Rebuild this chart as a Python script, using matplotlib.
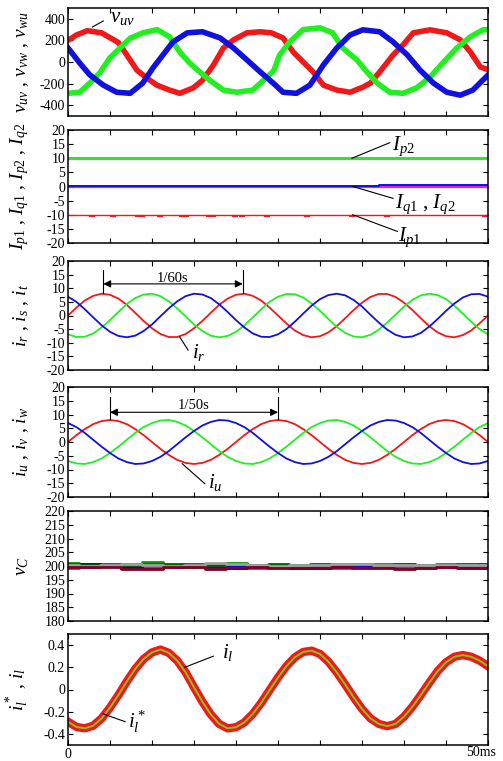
import matplotlib
matplotlib.use('Agg')
import matplotlib.pyplot as plt
from matplotlib.ticker import FixedLocator, MultipleLocator

plt.rcParams['font.family'] = ['Liberation Serif', 'DejaVu Serif']
plt.rcParams['mathtext.fontset'] = 'custom'
plt.rcParams['mathtext.it'] = 'Liberation Serif:italic'
plt.rcParams['mathtext.rm'] = 'Liberation Serif'
plt.rcParams['axes.unicode_minus'] = False

# ---------------- data ----------------
# Panel 1: line voltages (centre of noisy PWM band)
t_vuv = [0, 1, 2.3, 4, 6, 7, 8.2, 9.4, 10.6, 12.1, 13.3, 14.9, 16, 17.3, 18.5, 19.7, 21.3, 22.9, 24.2,
         25.6, 26.8, 28, 29.2, 30.4, 32, 33.6, 35.1, 36, 37.1, 38.7, 39.9, 41.1, 43.1, 45.1, 46.7, 47.9, 49.1, 50]
v_uv = [200, 250, 290, 270, 180, 65, -75, -150, -215, -260, -290, -240, -170, -30, 130, 205, 270, 280, 270,
        223, 93, 0, -93, -214, -260, -280, -233, -195, -93, 65, 160, 270, 298, 270, 205, 93, -47, -70]
t_vvw = [0, 1.4, 2.6, 3.8, 5, 6.2, 7.4, 8.9, 10.6, 12.1, 13.3, 14.5, 15.7, 16.9, 18.5, 20.1, 22, 23.7, 24.5,
         25.2, 26.4, 28, 30, 31.5, 32.7, 34.4, 35.6, 36.8, 38.3, 39.9, 41.5, 43.1, 44.6, 46.3, 47.9, 49.4, 50]
v_vw = [-290, -280, -195, -100, 40, 130, 220, 270, 300, 233, 93, -10, -93, -170, -260, -280, -260, -140, -80,
        65, 186, 300, 316, 270, 130, 19, -93, -195, -280, -290, -240, -140, -10, 130, 233, 298, 300]
t_vwu = [0, 1.4, 2.6, 4.2, 5.8, 7.4, 8.9, 10.1, 11.3, 12.5, 14.2, 16, 18.1, 19.7, 21.3, 22.9, 24.5, 25.6,
         27.2, 28.8, 30.4, 32, 33.6, 35.1, 37.1, 38.7, 40.4, 41.9, 43.5, 45.1, 46.7, 48.2, 50]
v_wu = [130, -10, -120, -214, -280, -290, -195, -56, 65, 186, 270, 280, 223, 130, 19, -93, -200, -280,
        -290, -214, -28, 130, 251, 298, 280, 186, 65, -74, -195, -280, -307, -260, -120]

# Panel 2: dq currents
t_dq = [0, 50]
I_p2 = [10, 10]
I_p1 = [-10, -10]
I_q1 = [-0.2, -0.2]
t_q2 = [0, 37, 37, 50]
I_q2 = [0.15, 0.15, 0.6, 0.6]
t_p1_dips = [2.9, 5.4, 8.3, 8.8, 10.9, 13.6, 14.1, 16.8, 17.3, 19.9, 20.7, 23.7, 28.5, 33.8, 38.0, 49.6]

# Panels 3,4: currents, 1 ms samples
t_ms = list(range(51))
i_r = [0, 2.9, 5.5, 7.2, 8.0, 7.6, 6.2, 3.9, 1.0, -2.0, -4.7, -6.8, -7.9, -7.9, -6.8, -4.7, -2.0, 1.0, 3.9,
       6.2, 7.6, 8.0, 7.2, 5.5, 2.9, 0, -2.9, -5.5, -7.2, -8.0, -7.6, -6.2, -3.9, -1.0, 2.0, 4.7, 6.8, 7.9,
       7.9, 6.8, 4.7, 2.0, -1.0, -3.9, -6.2, -7.6, -8.0, -7.2, -5.5, -2.9, 0]
i_s = [-6.9, -7.9, -7.8, -6.6, -4.4, -1.7, 1.3, 4.2, 6.4, 7.7, 8.0, 7.1, 5.2, 2.6, -0.3, -3.3, -5.7, -7.4,
       -8.0, -7.5, -6.0, -3.6, -0.7, 2.3, 5.0, 6.9, 7.9, 7.8, 6.6, 4.4, 1.7, -1.3, -4.2, -6.4, -7.7, -8.0,
       -7.1, -5.2, -2.6, 0.3, 3.3, 5.7, 7.4, 8.0, 7.5, 6.0, 3.6, 0.7, -2.3, -5.0, -6.9]
i_t = [6.9, 5.0, 2.3, -0.7, -3.6, -6.0, -7.5, -8.0, -7.4, -5.7, -3.3, -0.3, 2.6, 5.2, 7.1, 8.0, 7.7, 6.4,
       4.1, 1.3, -1.7, -4.4, -6.6, -7.8, -7.9, -6.9, -5.0, -2.3, 0.7, 3.6, 6.0, 7.5, 8.0, 7.4, 5.7, 3.3,
       0.3, -2.6, -5.2, -7.1, -8.0, -7.7, -6.4, -4.1, -1.3, 1.7, 4.4, 6.6, 7.8, 7.9, 6.9]
i_u = [0, 2.5, 4.7, 6.5, 7.6, 8.0, 7.6, 6.5, 4.7, 2.5, 0, -2.5, -4.7, -6.5, -7.6, -8.0, -7.6, -6.5, -4.7,
       -2.5, 0, 2.5, 4.7, 6.5, 7.6, 8.0, 7.6, 6.5, 4.7, 2.5, 0, -2.5, -4.7, -6.5, -7.6, -8.0, -7.6, -6.5,
       -4.7, -2.5, 0, 2.5, 4.7, 6.5, 7.6, 8.0, 7.6, 6.5, 4.7, 2.5, 0]
i_v = [-6.9, -7.8, -8.0, -7.3, -6.0, -4.0, -1.7, 0.8, 3.3, 5.4, 6.9, 7.8, 8.0, 7.3, 6.0, 4.0, 1.7, -0.8,
       -3.3, -5.4, -6.9, -7.8, -8.0, -7.3, -6.0, -4.0, -1.7, 0.8, 3.3, 5.4, 6.9, 7.8, 8.0, 7.3, 6.0, 4.0,
       1.7, -0.8, -3.3, -5.4, -6.9, -7.8, -8.0, -7.3, -6.0, -4.0, -1.7, 0.8, 3.3, 5.4, 6.9]
i_w = [6.9, 5.4, 3.3, 0.8, -1.7, -4.0, -6.0, -7.3, -8.0, -7.8, -6.9, -5.4, -3.3, -0.8, 1.7, 4.0, 6.0, 7.3,
       8.0, 7.8, 6.9, 5.4, 3.3, 0.8, -1.7, -4.0, -6.0, -7.3, -8.0, -7.8, -6.9, -5.4, -3.3, -0.8, 1.7, 4.0,
       6.0, 7.3, 8.0, 7.8, 6.9, 5.4, 3.3, 0.8, -1.7, -4.0, -6.0, -7.3, -8.0, -7.8, -6.9]

# Panel 5: capacitor voltages, 2.5 ms samples
t_vc = [0, 2.5, 5, 7.5, 10, 12.5, 15, 17.5, 20, 22.5, 25, 27.5, 30, 32.5, 35, 37.5, 40, 42.5, 45, 47.5, 50]
vc_series = {
    '#00a000': [201.0, 200.6, 200.2, 200.9, 201.3, 200.4, 199.8, 200.6, 201.0, 200.2, 200.3, 200.4, 200.2,
                200.5, 200.6, 200.7, 200.6, 200.5, 200.6, 200.5, 200.6],
    '#e00000': [200.3, 200.5, 200.8, 200.6, 200.2, 200.0, 200.8, 200.9, 200.4, 199.9, 199.7, 199.7, 199.8,
                199.8, 199.7, 199.7, 199.7, 199.6, 199.8, 199.9, 200.0],
    '#000000': [199.8, 200.1, 199.9, 199.3, 199.2, 200.0, 200.2, 199.3, 199.2, 200.0, 199.5, 199.2, 199.4,
                199.6, 199.7, 199.8, 199.7, 200.1, 200.0, 199.6, 199.8],
    '#e000e0': [199.2, 199.5, 199.9, 199.8, 199.6, 199.7, 199.9, 199.8, 199.5, 199.4, 199.6, 199.7, 199.5,
                199.4, 199.5, 199.6, 199.5, 199.4, 199.5, 199.3, 199.4],
    '#0000e0': [200.5, 200.7, 200.4, 199.8, 200.2, 200.3, 200.0, 200.1, 200.3, 200.0, 200.4, 200.2, 200.1,
                200.3, 200.2, 200.4, 200.3, 200.5, 200.1, 200.0, 200.3],
    '#006400': [200.8, 200.3, 200.0, 200.5, 200.8, 200.6, 200.1, 200.5, 200.7, 200.3, 200.6, 200.4, 200.6,
                200.8, 200.6, 200.5, 200.7, 200.3, 200.4, 200.8, 200.7],
    '#a0a0a0': [200.2, 200.0, 200.3, 200.7, 200.5, 200.0, 200.4, 201.0, 200.8, 200.2, 200.0, 200.2, 200.5,
                200.9, 200.9, 200.5, 200.3, 200.2, 200.4, 200.3, 200.2],
    '#800020': [199.5, 199.8, 199.6, 198.9, 199.0, 199.7, 199.6, 199.0, 199.1, 199.8, 199.2, 199.1, 199.4,
                199.5, 199.4, 199.2, 198.9, 199.3, 199.5, 199.2, 199.1],
}

# Panel 6: load current reference (measured current tracks it with noise)
i_l_ref = [-0.29, -0.337, -0.35, -0.326, -0.26, -0.163, -0.05, 0.072, 0.185, 0.275, 0.334, 0.36, 0.33, 0.26,
           0.155, 0.02, -0.11, -0.225, -0.31, -0.35, -0.34, -0.296, -0.22, -0.12, -0.006, 0.108, 0.21, 0.29,
           0.338, 0.35, 0.32, 0.25, 0.155, 0.045, -0.07, -0.175, -0.26, -0.31, -0.33, -0.31, -0.245, -0.155,
           -0.05, 0.06, 0.165, 0.245, 0.295, 0.31, 0.295, 0.26, 0.21]

RED, GREEN, BLUE = '#f01818', '#22ee22', '#1010e0'

# ---------------- layout ----------------
W, H = 503, 761
fig = plt.figure(figsize=(W / 100, H / 100), dpi=100)
L, R = 68, 488


def add_panel(top, bottom):
    ax = fig.add_axes([L / W, 1 - bottom / H, (R - L) / W, (bottom - top) / H])
    ax.set_xlim(0, 50)
    ax.xaxis.set_major_locator(MultipleLocator(5))
    ax.tick_params(direction='in', top=True, right=True, length=3.5, width=0.8,
                   labelsize=10, pad=2)
    ax.tick_params(axis='x', labelbottom=False)
    for s in ax.spines.values():
        s.set_linewidth(1.1)
    ax.yaxis.set_label_coords(-0.088, 0.5)
    return ax


ax1 = add_panel(8, 116)
ax2 = add_panel(130, 243)
ax3 = add_panel(261, 370)
ax4 = add_panel(387, 497)
ax5 = add_panel(511, 621)
ax6 = add_panel(634, 745)

LBL = dict(fontsize=14)

# Panel 1
ax1.plot(t_vuv, v_uv, color=RED, lw=4.0, solid_joinstyle='round')
ax1.plot(t_vvw, v_vw, color=GREEN, lw=4.0, solid_joinstyle='round')
ax1.plot(t_vwu, v_wu, color=BLUE, lw=4.0, solid_joinstyle='round')
ax1.set_ylim(-500, 500)
ax1.yaxis.set_major_locator(FixedLocator([-400, -200, 0, 200, 400]))
ax1.set_ylabel(r'$v_{uv}$ , $v_{vw}$ , $v_{wu}$', **LBL)
ax1.plot([2.9, 4.2], [324, 380], color='black', lw=0.8)
ax1.text(5.0, 370, r'$v_{uv}$', fontsize=15, va='baseline')

# Panel 2
ax2.plot(t_dq, I_p2, color=GREEN, lw=2.2)
ax2.plot(t_dq, I_q1, color='#e020e0', lw=1.6)
ax2.plot(t_q2, I_q2, color=BLUE, lw=1.4)
ax2.plot(t_dq, I_p1, color=RED, lw=1.0)
ax2.plot(t_p1_dips, [-10.4] * len(t_p1_dips), ls='none', marker='_', ms=5, mew=1.5, color=RED)
ax2.set_ylim(-20, 20)
ax2.yaxis.set_major_locator(MultipleLocator(5))
ax2.set_ylabel(r'$I_{p1}$ , $I_{q1}$ , $I_{p2}$ , $I_{q2}$', **LBL)
ax2.plot([33.8, 38.3], [10, 15.5], color='black', lw=0.8)
ax2.plot([33.9, 38.7], [0, -4.2], color='black', lw=0.8)
ax2.plot([33.9, 39.2], [-10, -15.9], color='black', lw=0.8)
ax2.text(38.6, 13.0, r'$I_{p2}$', fontsize=15, va='baseline')
ax2.text(38.9, -7.6, r'$I_{q1}$ , $I_{q2}$', fontsize=15, va='baseline')
ax2.text(39.3, -19.4, r'$I_{p1}$', fontsize=15, va='baseline')

# Panel 3
ax3.plot(t_ms, i_r, color=RED, lw=1.3)
ax3.plot(t_ms, i_s, color=GREEN, lw=1.3)
ax3.plot(t_ms, i_t, color=BLUE, lw=1.3)
ax3.set_ylim(-20, 20)
ax3.yaxis.set_major_locator(MultipleLocator(5))
ax3.set_ylabel(r'$i_r$ , $i_s$ , $i_t$', **LBL)
for tx in (4.2, 20.8):
    ax3.plot([tx, tx], [8.3, 16.7], color='black', lw=0.8)
ax3.annotate('', xy=(4.2, 11.6), xytext=(20.8, 11.6),
             arrowprops=dict(arrowstyle='<|-|>', color='black', lw=0.8,
                             shrinkA=0, shrinkB=0, mutation_scale=11))
ax3.text(12.5, 13.6, '1/60s', fontsize=10.5, ha='center', va='center')
ax3.plot([13.3, 14.3], [-7.9, -12.7], color='black', lw=0.8)
ax3.text(14.8, -15.6, r'$i_r$', fontsize=15, va='baseline')

# Panel 4
ax4.plot(t_ms, i_u, color=RED, lw=1.3)
ax4.plot(t_ms, i_v, color=GREEN, lw=1.3)
ax4.plot(t_ms, i_w, color=BLUE, lw=1.3)
ax4.set_ylim(-20, 20)
ax4.yaxis.set_major_locator(MultipleLocator(5))
ax4.set_ylabel(r'$i_u$ , $i_v$ , $i_w$', **LBL)
for tx in (5.0, 25.0):
    ax4.plot([tx, tx], [8.2, 16.3], color='black', lw=0.8)
ax4.annotate('', xy=(5.0, 10.8), xytext=(25.0, 10.8),
             arrowprops=dict(arrowstyle='<|-|>', color='black', lw=0.8,
                             shrinkA=0, shrinkB=0, mutation_scale=11))
ax4.text(15.0, 13.2, '1/50s', fontsize=10.5, ha='center', va='center')
ax4.plot([13.6, 16.3], [-7.9, -15.2], color='black', lw=0.8)
ax4.text(16.7, -16.8, r'$i_u$', fontsize=15, va='baseline')

# Panel 5
for col, vals in vc_series.items():
    ax5.plot(t_vc, vals, color=col, lw=2.0, drawstyle='steps-mid')
ax5.set_ylim(180, 220)
ax5.yaxis.set_major_locator(MultipleLocator(5))
ax5.set_ylabel(r'$v_C$', **LBL)

# Panel 6
ax6.plot(t_ms, i_l_ref, color=RED, lw=6.0, solid_joinstyle='round')
ax6.plot(t_ms, i_l_ref, color='#80c820', lw=1.4)
ax6.set_ylim(-0.5, 0.5)
ax6.yaxis.set_major_locator(FixedLocator([-0.4, -0.2, 0, 0.2, 0.4]))
ax6.set_yticklabels(['-0.4', '-0.2', '0', '0.2', '0.4'])
ax6.set_ylabel(r'$i_l^*$ , $i_l$', **LBL)
ax6.plot([13.9, 17.3], [0.20, 0.30], color='black', lw=0.8)
ax6.text(18.3, 0.284, r'$i_l$', fontsize=15, va='baseline')
ax6.plot([4.2, 6.8], [-0.22, -0.29], color='black', lw=0.8)
ax6.text(7.2, -0.347, r'$i_l^*$', fontsize=15, va='baseline')
ax6.tick_params(axis='x', labelbottom=True)
ax6.set_xticks([0, 5, 10, 15, 20, 25, 30, 35, 40, 45, 50])
ax6.set_xticklabels(['0', '', '', '', '', '', '', '', '', '', ''])
ax6.text(49.2, -0.565, '50ms', fontsize=10, ha='center', va='center')

fig.savefig('out.png', dpi=100)
